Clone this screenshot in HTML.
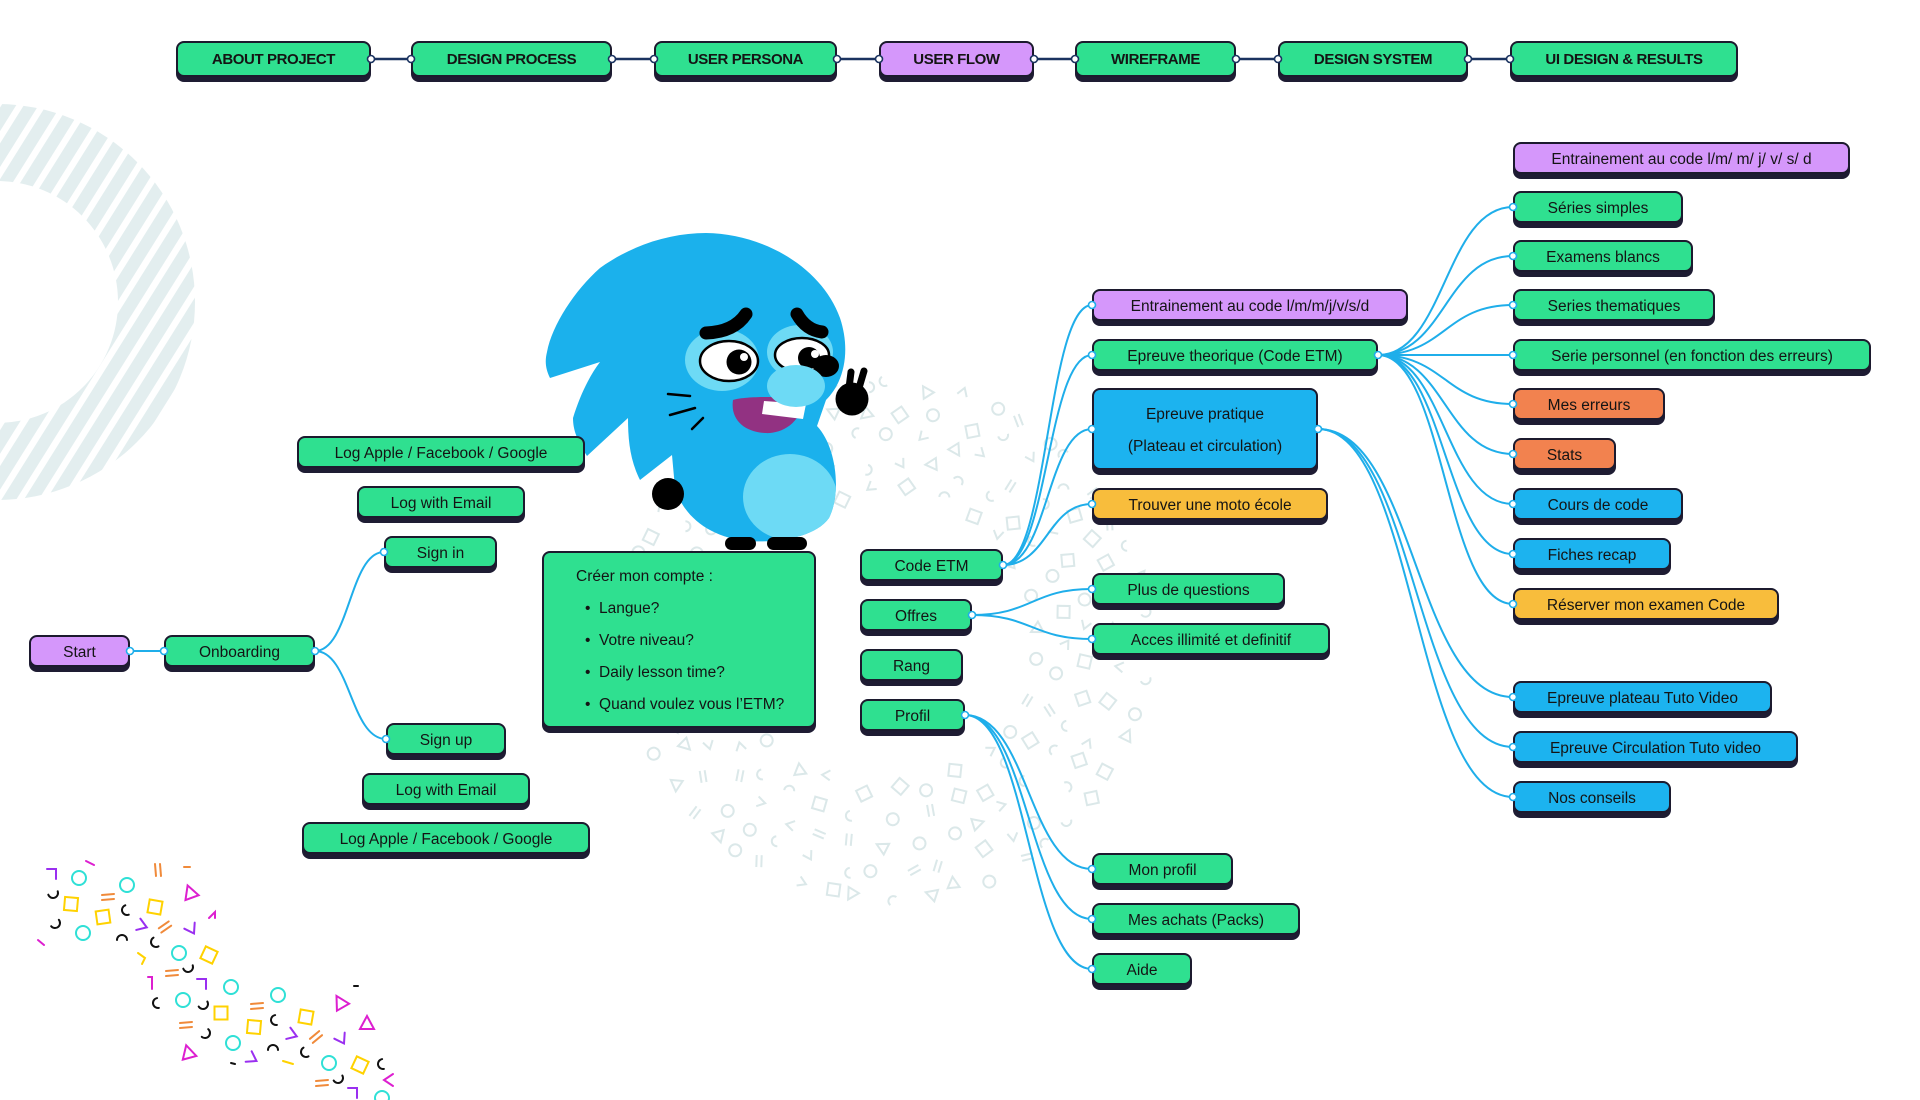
<!DOCTYPE html>
<html><head><meta charset="utf-8">
<style>
html,body{margin:0;padding:0;background:#fff}
body{width:1920px;height:1100px;position:relative;overflow:hidden}
svg.l{position:absolute;left:0;top:0}
.n{position:absolute;height:32px;box-sizing:border-box;border:2px solid #1c1a2e;border-radius:8px;box-shadow:0 5px 0 #1e1c33;display:flex;align-items:center;justify-content:center;font-family:"Liberation Sans",sans-serif;font-size:15.5px;color:#141414;white-space:nowrap;padding-top:3px}
.nv{top:41px;height:36px;font-weight:bold;font-size:15px;letter-spacing:-0.4px;padding-top:0}
.g{background:#2fe090}.p{background:#d597fb}.o{background:#f2824f}.y{background:#f8bd3c}.b{background:#1cb3ef}
.cr{display:block;padding:0;font-size:15.5px}
.cr div{position:absolute;left:0;white-space:nowrap;line-height:20px}
</style></head><body>

<!-- faint background pattern -->
<svg class="l" id="bgp" width="1920" height="1100" fill="none" stroke="#dbe8e9" stroke-width="2"></svg>

<!-- striped ring -->
<svg class="l" width="230" height="520">
<defs>
<pattern id="st" width="19" height="19" patternUnits="userSpaceOnUse" patternTransform="rotate(32)"><rect width="12.5" height="19" fill="#e3eeef"/></pattern>
<mask id="rm"><circle cx="-3" cy="302" r="198" fill="#fff"/><circle cx="-3" cy="302" r="121" fill="#000"/></mask>
</defs>
<rect width="230" height="520" fill="url(#st)" mask="url(#rm)"/>
</svg>

<!-- confetti -->
<svg class="l" width="1920" height="1100" fill="none" stroke-width="2" stroke-linecap="round">
<g stroke="#2fe0d6">
<circle cx="79" cy="878" r="7"/><circle cx="127" cy="885" r="7"/><circle cx="83" cy="933" r="7"/><circle cx="179" cy="953" r="7"/><circle cx="231" cy="987" r="7"/><circle cx="183" cy="1000" r="7"/><circle cx="278" cy="995" r="7"/><circle cx="233" cy="1043" r="7"/><circle cx="329" cy="1063" r="7"/><circle cx="382" cy="1098" r="7"/>
</g>
<g stroke="#ffd200">
<rect x="-6.5" y="-6.5" width="13" height="13" transform="translate(71,904) rotate(5)"/>
<rect x="-6.5" y="-6.5" width="13" height="13" transform="translate(103,917) rotate(-8)"/>
<rect x="-6.5" y="-6.5" width="13" height="13" transform="translate(155,907) rotate(10)"/>
<rect x="-6.5" y="-6.5" width="13" height="13" transform="translate(209,955) rotate(25)"/>
<rect x="-6.5" y="-6.5" width="13" height="13" transform="translate(221,1013) rotate(0)"/>
<rect x="-6.5" y="-6.5" width="13" height="13" transform="translate(254,1027) rotate(5)"/>
<rect x="-6.5" y="-6.5" width="13" height="13" transform="translate(306,1017) rotate(10)"/>
<rect x="-6.5" y="-6.5" width="13" height="13" transform="translate(360,1065) rotate(25)"/>
<path d="M-4 -5 L3 0 L0 6" transform="translate(142,958)"/>
<path d="M-5 -3 L5 0" transform="translate(288,1064)"/>
</g>
<g stroke="#dd1fd0">
<path d="M-7 6 L7 6 L0 -7 Z" transform="translate(190,892) rotate(-20)"/>
<path d="M-7 6 L7 6 L0 -7 Z" transform="translate(340,1002) rotate(-30)"/>
<path d="M-7 6 L7 6 L0 -7 Z" transform="translate(367,1023)"/>
<path d="M-7 6 L7 6 L0 -7 Z" transform="translate(188,1052) rotate(-15)"/>
<path d="M-4 -2 L4 2" transform="translate(90,863)"/>
<path d="M-3 3 L3 -3 L3 3" transform="translate(212,915)"/>
<path d="M-3 -2 L3 3" transform="translate(41,942)"/>
<path d="M-2 -6 L2 -6 L2 6" transform="translate(150,983)"/>
<path d="M-5 -6 L4 0 L-5 6" transform="translate(388,1080) rotate(180)"/>
</g>
<g stroke="#9a2ff0">
<path d="M-5 -4 L4 -4 L4 6" transform="translate(52,873)"/>
<path d="M-5 -6 L4 0 L-5 6" transform="translate(143,926) rotate(20)"/>
<path d="M-5 -6 L4 0 L-5 6" transform="translate(192,930) rotate(60)"/>
<path d="M-5 -4 L4 -4 L4 6" transform="translate(202,983)"/>
<path d="M-5 -6 L4 0 L-5 6" transform="translate(293,1035) rotate(20)"/>
<path d="M-5 -6 L4 0 L-5 6" transform="translate(342,1040) rotate(60)"/>
<path d="M-5 -6 L4 0 L-5 6" transform="translate(253,1059) rotate(30)"/>
<path d="M-5 -4 L4 -4 L4 6" transform="translate(353,1092)"/>
</g>
<g stroke="#f08a3a">
<path d="M-6 -2 L6 -3 M-6 3 L6 2" transform="translate(158,870) rotate(90)"/>
<path d="M-6 -2 L6 -3 M-6 3 L6 2" transform="translate(108,897)"/>
<path d="M-6 -2 L6 -3 M-6 3 L6 2" transform="translate(165,927) rotate(-30)"/>
<path d="M-6 -2 L6 -3 M-6 3 L6 2" transform="translate(172,973)"/>
<path d="M-6 -2 L6 -3 M-6 3 L6 2" transform="translate(257,1006)"/>
<path d="M-6 -2 L6 -3 M-6 3 L6 2" transform="translate(186,1025)"/>
<path d="M-6 -2 L6 -3 M-6 3 L6 2" transform="translate(316,1037) rotate(-35)"/>
<path d="M-6 -2 L6 -3 M-6 3 L6 2" transform="translate(322,1083)"/>
<path d="M-3 0 L3 0" transform="translate(187,867)"/>
</g>
<g stroke="#111">
<path d="M-5 0 A5 5 0 0 0 5 0" transform="translate(53,893) rotate(-20)"/>
<path d="M-5 0 A5 5 0 0 0 5 0" transform="translate(55,923) rotate(-40)"/>
<path d="M-5 0 A5 5 0 0 0 5 0" transform="translate(127,910) rotate(70)"/>
<path d="M-5 0 A5 5 0 0 1 5 0" transform="translate(122,940)"/>
<path d="M-5 0 A5 5 0 0 0 5 0" transform="translate(156,942) rotate(60)"/>
<path d="M-5 0 A5 5 0 0 0 5 0" transform="translate(188,967) rotate(-20)"/>
<path d="M-5 0 A5 5 0 0 0 5 0" transform="translate(158,1003) rotate(80)"/>
<path d="M-5 0 A5 5 0 0 0 5 0" transform="translate(203,1004) rotate(-30)"/>
<path d="M-5 0 A5 5 0 0 0 5 0" transform="translate(205,1033) rotate(-50)"/>
<path d="M-5 0 A5 5 0 0 0 5 0" transform="translate(276,1020) rotate(80)"/>
<path d="M-5 0 A5 5 0 0 1 5 0" transform="translate(273,1050)"/>
<path d="M-5 0 A5 5 0 0 0 5 0" transform="translate(306,1052) rotate(60)"/>
<path d="M-5 0 A5 5 0 0 0 5 0" transform="translate(338,1078) rotate(-30)"/>
<path d="M-5 0 A5 5 0 0 0 5 0" transform="translate(383,1064) rotate(80)"/>
<path d="M-2 0 L2 1" transform="translate(233,1063)"/>
<path d="M-2 0 L2 0" transform="translate(356,986)"/>
</g>
</svg>

<!-- connectors -->
<svg class="l" width="1920" height="1100" fill="none">
<g stroke="#1b3360" stroke-width="2.5">
<path d="M371 59 L411 59 M612 59 L654 59 M837 59 L879 59 M1034 59 L1075 59 M1236 59 L1278 59 M1468 59 L1510 59"/>
</g>
<g stroke="#1faeea" stroke-width="2">
<path d="M130 651 L164 651"/>
<path d="M315 651 C349.5 651 349.5 552 384 552"/>
<path d="M315 651 C350.5 651 350.5 739 386 739"/>
<path d="M1003 565 C1047.5 565 1047.5 305 1092 305"/>
<path d="M1003 565 C1047.5 565 1047.5 355 1092 355"/>
<path d="M1003 565 C1047.5 565 1047.5 429 1092 429"/>
<path d="M1003 565 C1047.5 565 1047.5 504 1092 504"/>
<path d="M972 615 C1032 615 1032 589 1092 589"/>
<path d="M972 615 C1032 615 1032 639 1092 639"/>
<path d="M965 715 C1028.5 715 1028.5 869 1092 869"/>
<path d="M965 715 C1028.5 715 1028.5 919 1092 919"/>
<path d="M965 715 C1028.5 715 1028.5 969 1092 969"/>
<path d="M1378 355 C1445 355 1445 207 1513 207"/>
<path d="M1378 355 C1445 355 1445 256 1513 256"/>
<path d="M1378 355 C1445 355 1445 305 1513 305"/>
<path d="M1378 355 L1513 355"/>
<path d="M1378 355 C1445 355 1445 404 1513 404"/>
<path d="M1378 355 C1445 355 1445 454 1513 454"/>
<path d="M1378 355 C1445 355 1445 504 1513 504"/>
<path d="M1378 355 C1445 355 1445 554 1513 554"/>
<path d="M1378 355 C1445 355 1445 604 1513 604"/>
<path d="M1318 429 C1415 429 1415 697 1513 697"/>
<path d="M1318 429 C1415 429 1415 747 1513 747"/>
<path d="M1318 429 C1415 429 1415 797 1513 797"/>
</g>
</svg>

<!-- mascot -->
<svg class="l" width="1920" height="1100">
<defs>
<clipPath id="bc"><path d="M706 233 C765 234 822 268 840 318 C850 348 846 380 826 400 L817 426 C836 446 842 492 829 518 C815 538 775 543 748 541 C712 538 684 518 675 488 L672 455 L640 480 C630 460 628 440 628 418 L587 456 C577 440 573 430 573 418 C580 395 590 375 600 362 L550 378 C545 368 545 360 547 352 C552 325 575 290 600 268 C632 245 670 233 706 233 Z"/></clipPath>
</defs>
<path d="M706 233 C765 234 822 268 840 318 C850 348 846 380 826 400 L817 426 C836 446 842 492 829 518 C815 538 775 543 748 541 C712 538 684 518 675 488 L672 455 L640 480 C630 460 628 440 628 418 L587 456 C577 440 573 430 573 418 C580 395 590 375 600 362 L550 378 C545 368 545 360 547 352 C552 325 575 290 600 268 C632 245 670 233 706 233 Z" fill="#1bb1ec"/>
<ellipse cx="790" cy="497" rx="47" ry="43" fill="#6ddaf5" clip-path="url(#bc)"/>
<rect x="725" y="537" width="31" height="13" rx="6.5" fill="#000"/>
<rect x="767" y="537" width="40" height="13" rx="6.5" fill="#000"/>
<circle cx="668" cy="494" r="16" fill="#000"/>
<ellipse cx="722" cy="360" rx="37" ry="31" fill="#6ddaf5"/>
<ellipse cx="800" cy="352" rx="33" ry="27" fill="#6ddaf5"/>
<ellipse cx="729" cy="361" rx="29" ry="20" fill="#fff" stroke="#000" stroke-width="2.5"/>
<circle cx="739" cy="362" r="12.5" fill="#000"/>
<circle cx="744" cy="357" r="4" fill="#fff"/>
<ellipse cx="802" cy="355" rx="27" ry="17" fill="#fff" stroke="#000" stroke-width="2.5"/>
<circle cx="809" cy="358" r="11" fill="#000"/>
<circle cx="815" cy="354" r="4" fill="#fff"/>
<ellipse cx="826" cy="366" rx="13" ry="11" fill="#000"/>
<path d="M706 333 Q734 332 746 314" stroke="#000" stroke-width="13" stroke-linecap="round" fill="none"/>
<path d="M797 314 Q806 330 822 332" stroke="#000" stroke-width="13" stroke-linecap="round" fill="none"/>
<path d="M733 400 C745 396 790 396 804 400 C800 425 780 434 765 433 C745 432 730 420 733 400 Z" fill="#923282"/>
<polygon points="764,401 806,404 803,419 762,414" fill="#fff"/>
<ellipse cx="796" cy="386" rx="29" ry="21" fill="#6ddaf5"/>
<g stroke="#000" stroke-width="2.5" stroke-linecap="round">
<path d="M668 394 L690 396"/><path d="M670 415 L695 408"/><path d="M692 429 L703 418"/>
</g>
<circle cx="852" cy="399" r="16.5" fill="#000"/>
<path d="M849 388 L851 372 M859 388 L864 371" stroke="#000" stroke-width="7" stroke-linecap="round"/>
</svg>

<!-- nav -->
<div class="n nv g" style="left:176px;width:195px">ABOUT PROJECT</div>
<div class="n nv g" style="left:411px;width:201px">DESIGN PROCESS</div>
<div class="n nv g" style="left:654px;width:183px">USER PERSONA</div>
<div class="n nv p" style="left:879px;width:155px">USER FLOW</div>
<div class="n nv g" style="left:1075px;width:161px">WIREFRAME</div>
<div class="n nv g" style="left:1278px;width:190px">DESIGN SYSTEM</div>
<div class="n nv g" style="left:1510px;width:228px">UI DESIGN &amp; RESULTS</div>

<!-- left -->
<div class="n p" style="left:29px;top:635px;width:101px">Start</div>
<div class="n g" style="left:164px;top:635px;width:151px">Onboarding</div>
<div class="n g" style="left:297px;top:436px;width:288px">Log Apple / Facebook / Google</div>
<div class="n g" style="left:357px;top:486px;width:168px">Log with Email</div>
<div class="n g" style="left:384px;top:536px;width:113px">Sign in</div>
<div class="n g" style="left:386px;top:723px;width:120px">Sign up</div>
<div class="n g" style="left:362px;top:773px;width:168px">Log with Email</div>
<div class="n g" style="left:302px;top:822px;width:288px">Log Apple / Facebook / Google</div>

<div class="n g cr" style="left:542px;top:551px;width:274px;height:177px">
<div style="left:32px;top:14px">Créer mon compte :</div>
<div style="left:41px;top:46px">•&nbsp;&nbsp;Langue?</div>
<div style="left:41px;top:78px">•&nbsp;&nbsp;Votre niveau?</div>
<div style="left:41px;top:110px">•&nbsp;&nbsp;Daily lesson time?</div>
<div style="left:41px;top:142px">•&nbsp;&nbsp;Quand voulez vous l’ETM?</div>
</div>

<!-- middle -->
<div class="n g" style="left:860px;top:549px;width:143px">Code ETM</div>
<div class="n g" style="left:860px;top:599px;width:112px">Offres</div>
<div class="n g" style="left:860px;top:649px;width:103px">Rang</div>
<div class="n g" style="left:860px;top:699px;width:105px">Profil</div>

<!-- column 2 -->
<div class="n p" style="left:1092px;top:289px;width:316px">Entrainement au code l/m/m/j/v/s/d</div>
<div class="n g" style="left:1092px;top:339px;width:286px">Epreuve theorique (Code ETM)</div>
<div class="n b" style="left:1092px;top:388px;width:226px;height:82px;flex-direction:column;line-height:32px">
<div>Epreuve pratique</div><div>(Plateau et circulation)</div></div>
<div class="n y" style="left:1092px;top:488px;width:236px">Trouver une moto école</div>
<div class="n g" style="left:1092px;top:573px;width:193px">Plus de questions</div>
<div class="n g" style="left:1092px;top:623px;width:238px">Acces illimité et definitif</div>
<div class="n g" style="left:1092px;top:853px;width:141px">Mon profil</div>
<div class="n g" style="left:1092px;top:903px;width:208px">Mes achats (Packs)</div>
<div class="n g" style="left:1092px;top:953px;width:100px">Aide</div>

<!-- column 3 -->
<div class="n p" style="left:1513px;top:142px;width:337px">Entrainement au code l/m/ m/ j/ v/ s/ d</div>
<div class="n g" style="left:1513px;top:191px;width:170px">Séries simples</div>
<div class="n g" style="left:1513px;top:240px;width:180px">Examens blancs</div>
<div class="n g" style="left:1513px;top:289px;width:202px">Series thematiques</div>
<div class="n g" style="left:1513px;top:339px;width:358px">Serie personnel (en fonction des erreurs)</div>
<div class="n o" style="left:1513px;top:388px;width:152px">Mes erreurs</div>
<div class="n o" style="left:1513px;top:438px;width:103px">Stats</div>
<div class="n b" style="left:1513px;top:488px;width:170px">Cours de code</div>
<div class="n b" style="left:1513px;top:538px;width:158px">Fiches recap</div>
<div class="n y" style="left:1513px;top:588px;width:266px">Réserver mon examen Code</div>
<div class="n b" style="left:1513px;top:681px;width:259px">Epreuve plateau Tuto Video</div>
<div class="n b" style="left:1513px;top:731px;width:285px">Epreuve Circulation Tuto video</div>
<div class="n b" style="left:1513px;top:781px;width:158px">Nos conseils</div>

<!-- connector end circles -->
<svg class="l" width="1920" height="1100" fill="#fff" stroke-width="1.6">
<g stroke="#1b3360">
<circle cx="371" cy="59" r="3.5"/><circle cx="411" cy="59" r="3.5"/>
<circle cx="612" cy="59" r="3.5"/><circle cx="654" cy="59" r="3.5"/>
<circle cx="837" cy="59" r="3.5"/><circle cx="879" cy="59" r="3.5"/>
<circle cx="1034" cy="59" r="3.5"/><circle cx="1075" cy="59" r="3.5"/>
<circle cx="1236" cy="59" r="3.5"/><circle cx="1278" cy="59" r="3.5"/>
<circle cx="1468" cy="59" r="3.5"/><circle cx="1510" cy="59" r="3.5"/>
</g>
<g stroke="#1faeea">
<circle cx="130" cy="651" r="3.5"/><circle cx="164" cy="651" r="3.5"/><circle cx="315" cy="651" r="3.5"/>
<circle cx="384" cy="552" r="3.5"/><circle cx="386" cy="739" r="3.5"/>
<circle cx="1003" cy="565" r="3.5"/><circle cx="972" cy="615" r="3.5"/><circle cx="965" cy="715" r="3.5"/>
<circle cx="1092" cy="305" r="3.5"/><circle cx="1092" cy="355" r="3.5"/><circle cx="1092" cy="429" r="3.5"/><circle cx="1092" cy="504" r="3.5"/>
<circle cx="1092" cy="589" r="3.5"/><circle cx="1092" cy="639" r="3.5"/>
<circle cx="1092" cy="869" r="3.5"/><circle cx="1092" cy="919" r="3.5"/><circle cx="1092" cy="969" r="3.5"/>
<circle cx="1378" cy="355" r="3.5"/><circle cx="1318" cy="429" r="3.5"/>
<circle cx="1513" cy="207" r="3.5"/><circle cx="1513" cy="256" r="3.5"/><circle cx="1513" cy="305" r="3.5"/><circle cx="1513" cy="355" r="3.5"/>
<circle cx="1513" cy="404" r="3.5"/><circle cx="1513" cy="454" r="3.5"/><circle cx="1513" cy="504" r="3.5"/><circle cx="1513" cy="554" r="3.5"/>
<circle cx="1513" cy="604" r="3.5"/><circle cx="1513" cy="697" r="3.5"/><circle cx="1513" cy="747" r="3.5"/><circle cx="1513" cy="797" r="3.5"/>
</g>
</svg>

<script>
(function(){
var s=document.getElementById('bgp');var seed=12345;
function r(){seed=(seed*16807)%2147483647;return (seed-1)/2147483646;}
var sh=['<circle r="6"/>','<rect x="-6" y="-6" width="12" height="12"/>','<path d="M-6 5 L6 5 L0 -6 Z"/>','<path d="M-5 -5 L3 0 L-5 5"/>','<path d="M-6 -2 L6 -2 M-6 3 L6 3"/>','<path d="M-5 0 A5 5 0 0 0 5 0"/>'];
var h='';
for(var k=0;k<5;k++){
var d0=150+k*27;var n=Math.floor(2*Math.PI*d0/33);var off=r()*6.283;
for(var i=0;i<n;i++){
var a=off+i*2*Math.PI/n+(r()-0.5)*0.08;var d=d0+(r()-0.5)*12;
var x=885+Math.cos(a)*d,y=640+Math.sin(a)*d;
var t=Math.floor(r()*6);var rot=Math.floor(r()*360);
h+='<g transform="translate('+x.toFixed(1)+','+y.toFixed(1)+') rotate('+rot+')">'+sh[t]+'</g>';
}}
s.innerHTML=h;
})();
</script>
</body></html>
